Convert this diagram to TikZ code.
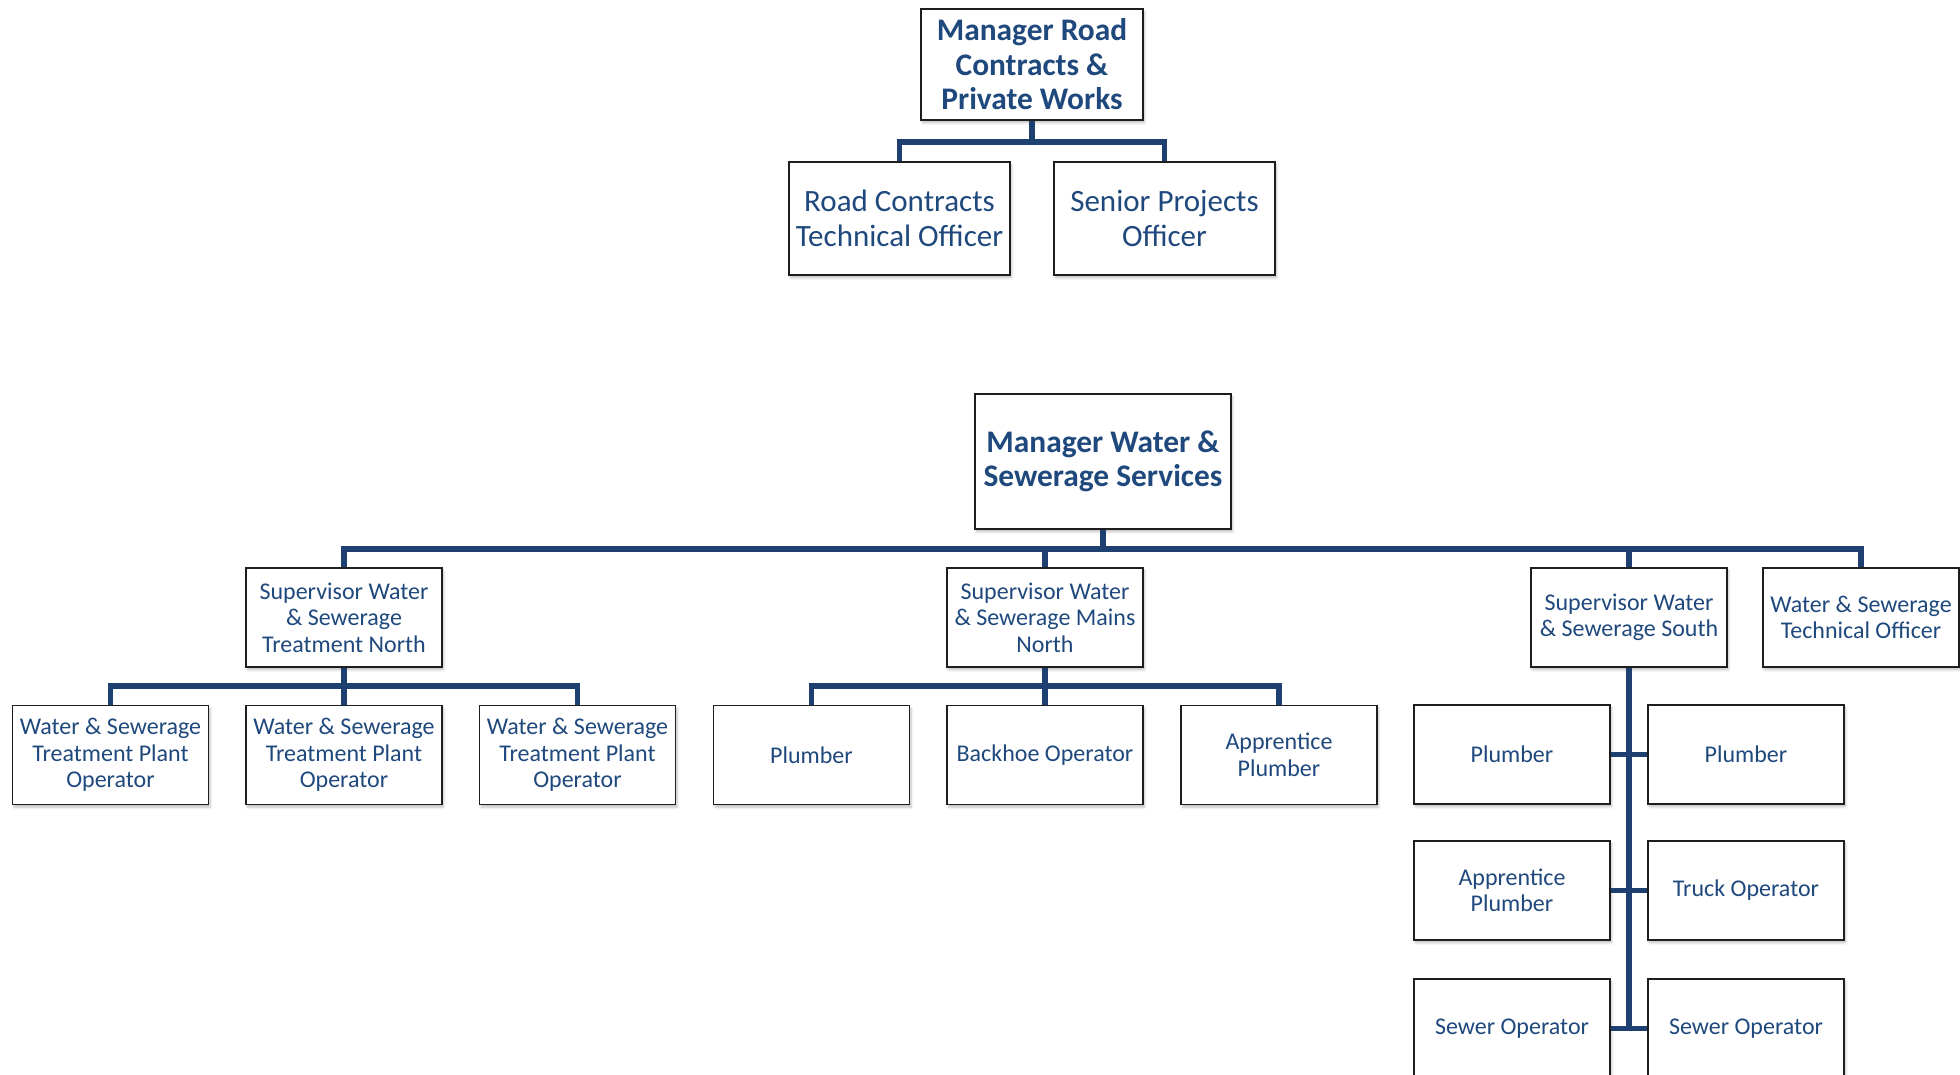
\documentclass[tikz,border=0pt]{standalone}
\usepackage{fontspec}
\setmainfont{Carlito}
\usetikzlibrary{shadows.blur}
\definecolor{navy}{RGB}{31,73,125}
\definecolor{rule}{RGB}{30,64,112}
\definecolor{edge}{RGB}{30,30,30}
\tikzset{
  box/.style={draw=edge, line width=0.9pt, fill=white, text=navy, align=center,
    inner sep=1pt,
    blur shadow={shadow xshift=0.8pt, shadow yshift=-1.4pt, shadow blur steps=6, shadow opacity=25, shadow blur radius=1.2pt}},
  small/.style={box, minimum width=98pt, minimum height=49.5pt,
    font=\fontsize{12}{13.25}\selectfont},
  wide/.style={box, minimum width=110.5pt, minimum height=56.5pt,
    font=\fontsize{15.5}{17.5}\selectfont},
  headbox/.style={box, font=\fontsize{15.7}{17.3}\selectfont\bfseries},
  conn/.style={draw=rule, line width=2.8pt, line join=miter},
  tee/.style={draw=rule, line width=2.2pt},
  spine/.style={draw=rule, line width=3.3pt}
}
\begin{document}
\begin{tikzpicture}[x=0.5pt, y=-0.5pt]
\useasboundingbox (0,0) rectangle (1960,1075);
\begin{scope}
\clip (0,0) rectangle (1960,1075);

% Road contracts branch
\node[headbox, minimum width=111pt, minimum height=55.5pt] (mr) at (1032,64.5)
  {Manager Road\\Contracts \&\\Private Works};
\node[wide] (rcto) at (899.5,218.5) {Road Contracts\\Technical Officer};
\node[wide] (spo) at (1164.5,218.5) {Senior Projects\\Officer};

% Water and sewerage branch
\node[headbox, minimum width=128pt, minimum height=67.5pt] (mws) at (1103,461.5)
  {Manager Water \&\\Sewerage Services};

\node[small] (stn) at (344,617.5) {Supervisor Water\\\& Sewerage\\Treatment North};
\node[small] (smn) at (1045,617.5) {Supervisor Water\\\& Sewerage Mains\\North};
\node[small] (sss) at (1629,617.5) {Supervisor Water\\\& Sewerage South};
\node[small] (wsto) at (1861,617.5) {Water \& Sewerage\\Technical Officer};

% Treatment plant operators
\node[small] (t1) at (110.5,755) {Water \& Sewerage\\Treatment Plant\\Operator};
\node[small] (t2) at (344,755) {Water \& Sewerage\\Treatment Plant\\Operator};
\node[small] (t3) at (577.5,755) {Water \& Sewerage\\Treatment Plant\\Operator};

% Mains north crew
\node[small] (m1) at (811.5,755) {Plumber};
\node[small] (m2) at (1045,755) {Backhoe Operator};
\node[small] (m3) at (1279,755) {Apprentice\\Plumber};

% South crew
\node[small] (s1l) at (1512,754.5) {Plumber};
\node[small] (s1r) at (1746,754.5) {Plumber};
\node[small] (s2l) at (1512,890.5) {Apprentice\\Plumber};
\node[small] (s2r) at (1746,890.5) {Truck Operator};
\node[small] (s3l) at (1512,1028.5) {Sewer Operator};
\node[small] (s3r) at (1746,1028.5) {Sewer Operator};

% Bus junctions
\coordinate (b1) at (1032,142);
\coordinate (b2) at (1103,549);
\coordinate (b3) at (344,686);
\coordinate (b4) at (1045,686);

% Connectors
\draw[conn] (mr.south) -- (b1);
\draw[conn] (rcto.north) |- (b1) -| (spo.north);

\draw[conn] (mws.south) -- (b2);
\draw[conn] (stn.north) |- (b2) -| (wsto.north);
\draw[conn] (smn.north) -- (smn.north |- b2);
\draw[conn] (sss.north) -- (sss.north |- b2);

\draw[conn] (stn.south) -- (t2.north);
\draw[conn] (t1.north) |- (b3) -| (t3.north);

\draw[conn] (smn.south) -- (m2.north);
\draw[conn] (m1.north) |- (b4) -| (m3.north);

\draw[tee] (s1l.east) -- (s1r.west);
\draw[tee] (s2l.east) -- (s2r.west);
\draw[tee] (s3l.east) -- (s3r.west);
\draw[spine] (sss.south) -- (sss.south |- s3l.east);
\end{scope}
\end{tikzpicture}
\end{document}
